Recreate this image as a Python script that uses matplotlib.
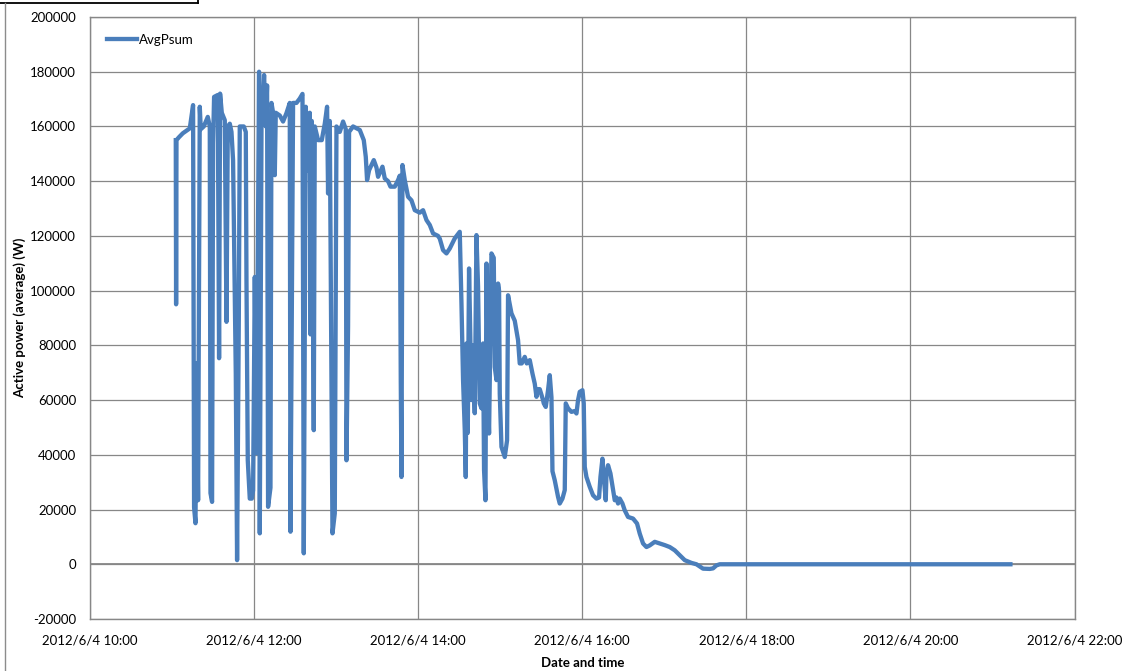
import matplotlib
matplotlib.use("Agg")
import matplotlib.pyplot as plt
import matplotlib.dates as mdates
import pandas as pd
from matplotlib.lines import Line2D

plt.rcParams['font.family'] = ['Lato', 'DejaVu Sans']

day = "2012-06-04"

times = [
    "11:02:44", "11:02:58", "11:03:15", "11:04:56", "11:07:52", "11:12:59", "11:15:23", "11:16:07",
    "11:17:09", "11:17:53", "11:19:03", "11:20:17", "11:21:01", "11:23:13", "11:26:08", "11:27:36",
    "11:28:07", "11:29:17", "11:30:01", "11:30:45", "11:33:27", "11:34:24", "11:35:08", "11:36:23",
    "11:38:34", "11:39:49", "11:40:46", "11:42:14", "11:43:28", "11:44:38", "11:46:37", "11:47:34",
    "11:48:49", "11:49:32", "11:52:28", "11:53:56", "11:54:26", "11:55:23", "11:56:51", "11:58:19",
    "11:59:16", "12:00:31", "12:01:45", "12:03:39", "12:04:10", "12:05:25", "12:07:19", "12:08:33",
    "12:09:30", "12:10:14", "12:11:59", "12:12:43", "12:13:54", "12:15:08", "12:15:52", "12:18:48",
    "12:21:12", "12:23:42", "12:26:06", "12:26:37", "12:28:31", "12:31:00", "12:33:25", "12:35:24",
    "12:36:21", "12:37:48", "12:39:29", "12:40:44", "12:41:15", "12:42:12", "12:43:39", "12:44:23",
    "12:46:48", "12:49:30", "12:51:42", "12:53:23", "12:54:07", "12:54:38", "12:55:21", "12:57:20",
    "12:59:01", "13:00:15", "13:02:40", "13:05:05", "13:07:04", "13:07:34", "13:08:44", "13:09:28",
    "13:12:24", "13:16:03", "13:17:18", "13:20:13", "13:21:41", "13:22:38", "13:24:06", "13:27:32",
    "13:29:30", "13:30:41", "13:33:54", "13:35:35", "13:37:59", "13:39:45", "13:42:53", "13:45:18",
    "13:46:33", "13:47:17", "13:47:47", "13:48:31", "13:50:12", "13:52:37", "13:55:06", "13:57:31",
    "14:01:10", "14:03:35", "14:06:04", "14:08:29", "14:10:54", "14:14:33", "14:15:48", "14:18:13",
    "14:20:42", "14:23:07", "14:26:46", "14:30:25", "14:31:40", "14:32:50", "14:34:05", "14:34:49",
    "14:35:19", "14:36:16", "14:37:13", "14:38:59", "14:39:43", "14:41:23", "14:42:38", "14:43:48",
    "14:45:02", "14:46:17", "14:47:28", "14:48:11", "14:49:13", "14:49:57", "14:51:07", "14:51:51",
    "14:53:36", "14:55:17", "14:56:01", "14:57:16", "14:58:26", "14:59:10", "14:59:40", "15:00:55",
    "15:03:20", "15:05:01", "15:05:44", "15:08:14", "15:10:38", "15:13:03", "15:14:17", "15:15:46",
    "15:17:57", "15:19:25", "15:21:37", "15:23:35", "15:25:16", "15:26:31", "15:27:28", "15:28:55",
    "15:31:20", "15:31:51", "15:33:19", "15:34:59", "15:36:14", "15:37:29", "15:38:13", "15:39:53",
    "15:42:19", "15:43:33", "15:45:31", "15:47:12", "15:47:56", "15:49:37", "15:52:06", "15:54:31",
    "15:55:46", "15:56:56", "15:58:10", "16:00:09", "16:01:06", "16:01:50", "16:03:04", "16:05:29",
    "16:07:54", "16:10:23", "16:12:17", "16:13:19", "16:14:46", "16:15:56", "16:17:11", "16:17:42",
    "16:18:52", "16:20:37", "16:22:32", "16:23:46", "16:25:01", "16:26:11", "16:27:26", "16:29:24",
    "16:31:05", "16:33:29", "16:37:09", "16:40:04", "16:42:03", "16:44:28", "16:46:57", "16:49:22",
    "16:53:01", "16:56:41", "17:00:20", "17:03:59", "17:07:39", "17:11:18", "17:14:58", "17:19:51",
    "17:23:31", "17:28:20", "17:33:14", "17:35:39", "17:38:08", "17:40:34", "21:13:08",
]

avg_psum = [
    155000, 95000, 155000, 156000, 157500, 159300, 167800, 20800,
    15000, 73500, 23400, 167200, 159000, 160000, 163500, 160000,
    26000, 22800, 154000, 170800, 171500, 75300, 172000, 165000,
    162300, 88600, 160000, 161000, 158000, 147700, 69800, 1500,
    89200, 160000, 160000, 158000, 103800, 38000, 24000, 24000,
    27000, 105000, 40600, 180000, 11300, 160000, 178800, 160000,
    175000, 21000, 28000, 168600, 165000, 142200, 165000, 164000,
    161800, 164900, 168600, 11900, 168600, 168600, 170200, 171900,
    4000, 167200, 144000, 165000, 84000, 162000, 49000, 160000,
    155000, 155000, 161000, 167200, 135500, 160000, 162000, 11300,
    18600, 160000, 158000, 161800, 159000, 38000, 87000, 158000,
    160000, 159000, 158700, 155000, 148900, 140400, 144000, 147700,
    145000, 141600, 145300, 141000, 140000, 138000, 138000, 140400,
    142000, 67000, 31900, 145900, 140400, 134300, 133000, 129400,
    128500, 129400, 125800, 124000, 120900, 120000, 119000, 114800,
    113600, 115400, 119100, 121500, 95300, 67300, 49000, 31900,
    80700, 48000, 108100, 60000, 80000, 55200, 120300, 101400,
    58800, 57000, 80700, 34400, 23400, 109900, 60000, 47800,
    113600, 112000, 72100, 67300, 102600, 100000, 62400, 42900,
    39200, 45300, 98300, 91700, 89000, 81900, 73400, 73400,
    75800, 73400, 74600, 69700, 66000, 61200, 64000, 64000,
    60000, 58800, 57500, 63600, 69100, 61000, 34000, 30700,
    24600, 22200, 24000, 27100, 58800, 57000, 55700, 56000,
    55100, 60000, 63000, 63600, 58800, 35600, 31900, 28300,
    25200, 24000, 24400, 31900, 38600, 30700, 23400, 33000,
    36200, 33200, 27100, 23400, 24400, 22200, 24000, 22200,
    19700, 17300, 16700, 14900, 11200, 7600, 6300, 6900,
    8200, 7600, 7000, 6300, 5100, 3300, 1500, 500,
    0, -1600, -1700, -1500, -400, 0, 0,
]

y_ticks = list(range(-20000, 200001, 20000))
x_start, x_end = "10:00", "22:00"

stamps = pd.to_datetime([f"{day} {t}" for t in times])

W, H = 1133, 671
fig = plt.figure(figsize=(W / 100, H / 100), dpi=100)
ax = fig.add_axes([90 / W, 1 - 619 / H, (1074.5 - 90) / W, (619 - 17) / H])

grid_c = "#878787"
ax.plot(stamps, avg_psum, color="#4a7ebb", lw=3.1, solid_joinstyle="round", label="AvgPsum", zorder=3)

ax.set_xlim(pd.Timestamp(f"{day} {x_start}"), pd.Timestamp(f"{day} {x_end}"))
ax.set_ylim(y_ticks[0], y_ticks[-1])
ax.set_yticks(y_ticks)
ax.yaxis.set_major_formatter(plt.FuncFormatter(lambda v, _: f"{v:.0f}"))
ax.xaxis.set_major_locator(mdates.HourLocator(byhour=range(0, 24, 2)))
ax.xaxis.set_major_formatter(plt.FuncFormatter(
    lambda v, _: (lambda d: f"{d.year}/{d.month}/{d.day} {d:%H:%M}")(mdates.num2date(v))))

ax.grid(True, color=grid_c, lw=0.9)
ax.axhline(0, color=grid_c, lw=1.3, zorder=2)
for s in ax.spines.values():
    s.set_color(grid_c)
    s.set_linewidth(1.0)
ax.tick_params(length=0, labelsize=9.5, colors="black")
ax.tick_params(axis="y", pad=10)
ax.tick_params(axis="x", pad=11)

ax.set_xlabel("Date and time", fontsize=9.5, fontweight="bold", labelpad=8)
ax.set_ylabel("Active power (average) (W)", fontsize=9.5, fontweight="bold", labelpad=3)

ax.legend(loc="upper left", bbox_to_anchor=(0.017, 0.972), frameon=False, fontsize=9.5,
          handlelength=2.3, handletextpad=0.15, borderpad=0, borderaxespad=0)

# bits of the chart frame that show at the image edge
fig.add_artist(Line2D([0, 198 / W], [1 - 2.5 / H, 1 - 2.5 / H], color="black", lw=1.3))
fig.add_artist(Line2D([198 / W, 198 / W], [1 - 2.5 / H, 1], color="black", lw=1.3))
fig.add_artist(Line2D([4.7 / W, 4.7 / W], [0, 1 - 3 / H], color="#8c8c8c", lw=1.0))

fig.savefig("out.png", dpi=100)
